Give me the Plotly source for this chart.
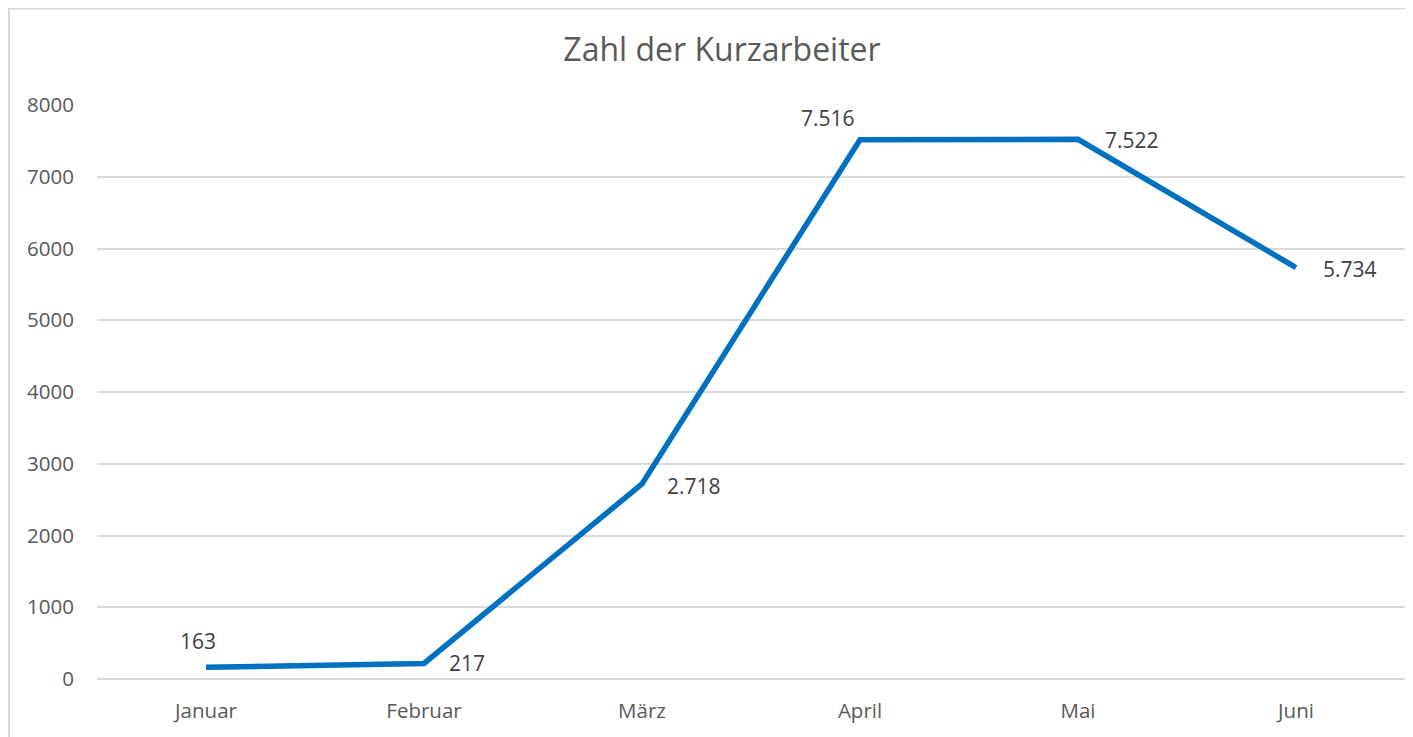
import plotly.graph_objects as go

months = ["Januar", "Februar", "März", "April", "Mai", "Juni"]
values = [163, 217, 2718, 7516, 7522, 5734]
y_ticks = [0, 1000, 2000, 3000, 4000, 5000, 6000, 7000, 8000]

# label placement styles (anchor, xshift, yshift) per point
label_style = [("center", -8, 26), ("left", 23, 0), ("left", 23, -2),
               ("center", -32, 22), ("left", 25, -1), ("left", 25, -1)]

OFF = 8  # page body margin
W, H = 1413 - OFF, 737 - OFF
ml, mt = 97 - OFF, 105 - OFF
mr = W - (1405 - OFF)
mb = H - (679 - OFF)
pw, ph = W - ml - mr, H - mt - mb

fig = go.Figure()
fig.add_trace(go.Scatter(
    x=months, y=values, mode="lines",
    line=dict(color="#0070c0", width=5.5),
    hoverinfo="skip",
))

for m, v, (anc, dx, dy) in zip(months, values, label_style):
    fig.add_annotation(x=m, y=v, text=f"{v:,}".replace(",", "."),
                       showarrow=False, xanchor=anc, yanchor="middle",
                       xshift=dx, yshift=dy,
                       font=dict(family="Open Sans", size=21, color="#404040"))

# chart border
bx0 = (9 - OFF - ml) / pw
by1 = 1 + (mt - 0.5) / ph
fig.add_shape(type="rect", xref="paper", yref="paper",
              x0=bx0, x1=1.2, y0=-0.3, y1=by1,
              line=dict(color="#d9d9d9", width=2), layer="below")

fig.update_layout(
    width=W, height=H,
    margin=dict(l=ml, r=mr, t=mt, b=mb),
    paper_bgcolor="white", plot_bgcolor="white",
    showlegend=False,
    title=dict(text="Zahl der Kurzarbeiter", x=(722 - OFF) / W, xanchor="center",
               y=1 - (50 - OFF) / H, yanchor="middle", yref="container",
               font=dict(family="Open Sans", size=32, color="#595959")),
    xaxis=dict(range=[-0.5, 5.5], showgrid=False, zeroline=False, showline=False,
               ticks="outside", ticklen=13, tickcolor="rgba(0,0,0,0)",
               tickfont=dict(family="Open Sans", size=20.5, color="#595959")),
    yaxis=dict(range=[0, 8000], tickvals=y_ticks, showgrid=True,
               gridcolor="#d9d9d9", gridwidth=1.5,
               zeroline=True, zerolinecolor="#d9d9d9", zerolinewidth=1.5,
               showline=False, tickformat="d",
               ticks="outside", ticklen=18, tickcolor="rgba(0,0,0,0)",
               tickfont=dict(family="Open Sans", size=20.5, color="#595959")),
)

fig.write_html("out.html")
